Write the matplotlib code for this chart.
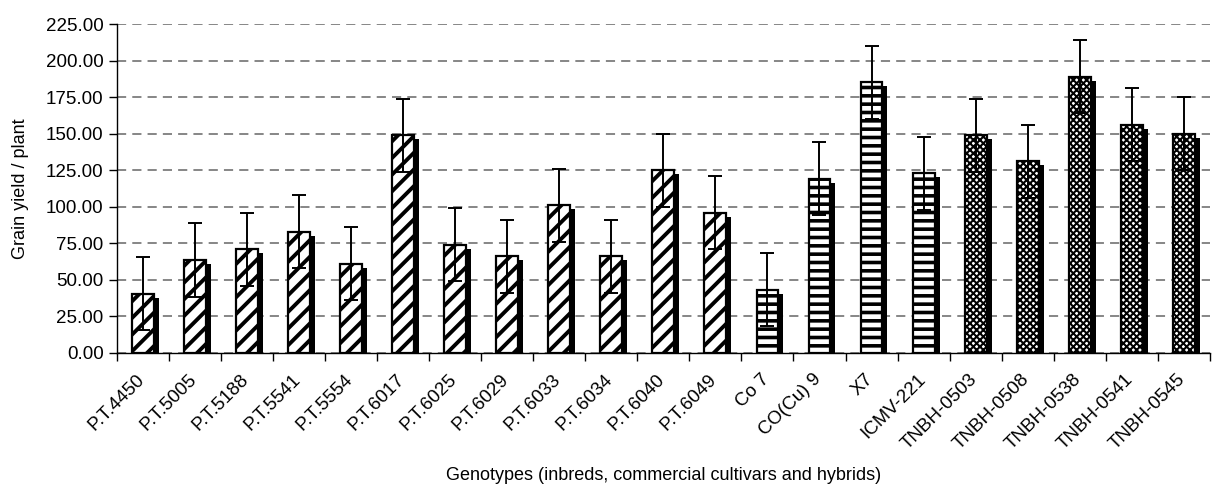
import numpy as np
import matplotlib.pyplot as plt
from matplotlib.transforms import offset_copy, ScaledTranslation

plt.rcParams['font.family'] = ['Liberation Sans', 'DejaVu Sans']

genotypes = ['P.T.4450', 'P.T.5005', 'P.T.5188', 'P.T.5541', 'P.T.5554', 'P.T.6017',
             'P.T.6025', 'P.T.6029', 'P.T.6033', 'P.T.6034', 'P.T.6040', 'P.T.6049',
             'Co 7', 'CO(Cu) 9', 'X7', 'ICMV-221',
             'TNBH-0503', 'TNBH-0508', 'TNBH-0538', 'TNBH-0541', 'TNBH-0545']
yields = [40.5, 63.5, 71, 83, 61, 149, 74, 66, 101, 66, 125, 96,
          43, 119, 185, 123, 149, 131, 189, 156, 150]
errors = [25, 25, 25, 25, 25, 25, 25, 25, 25, 25, 25, 25,
          25, 25, 25, 25, 25, 25, 25, 25, 25]
groups = ['inbred'] * 12 + ['cultivar'] * 4 + ['hybrid'] * 5

hatches = {'inbred': '//', 'cultivar': '--', 'hybrid': 'xxxxx'}
hatch_lw = {'inbred': 2.8, 'cultivar': 2.6, 'hybrid': 1.5}

fig = plt.figure(figsize=(12.16, 4.9), dpi=100)
ax = fig.add_axes([0.096, 0.28, 0.899, 0.671])

x = np.arange(len(genotypes))
w = 0.42

# shadow bars (offset to the lower right)
shadow_tr = offset_copy(ax.transData, fig=fig, x=5, y=-4, units='dots')
ax.bar(x, yields, width=w, color='black', transform=shadow_tr, zorder=2)

for xi, yi, g in zip(x, yields, groups):
    b = ax.bar(xi, yi, width=w, color='white', edgecolor='black',
               hatch=hatches[g], linewidth=0, zorder=3)
    for p in b:
        if hasattr(p, 'set_hatch_linewidth'):
            p.set_hatch_linewidth(hatch_lw[g])
    ax.bar(xi, yi, width=w, fill=False, edgecolor='black', linewidth=1.6, zorder=4)

ax.errorbar(x, yields, yerr=errors, fmt='none', ecolor='black', elinewidth=1.4,
            capsize=5, capthick=1.4, zorder=5)

ax.set_ylim(0, 225)
ax.set_xlim(-0.5, len(genotypes) - 0.5)
ax.set_yticks(np.arange(0, 226, 25))
ax.set_yticklabels(['%.2f' % v for v in np.arange(0, 226, 25)], fontsize=13.5)
ax.yaxis.grid(True, linestyle=(0, (6, 4)), color='#666666', linewidth=1.1)
ax.set_axisbelow(True)

ax.set_xticks(x)
ax.set_xticklabels(genotypes, rotation=45, ha='right', rotation_mode='anchor', fontsize=13.5)
ax.tick_params(axis='x', length=0, pad=13)
shift = ScaledTranslation(-7 / 100, 0, fig.dpi_scale_trans)
for lab in ax.get_xticklabels():
    lab.set_transform(lab.get_transform() + shift)
ax.set_xticks(np.arange(-0.5, len(genotypes), 1), minor=True)
ax.tick_params(axis='x', which='minor', length=6, direction='out', width=1)
ax.tick_params(axis='y', length=6, direction='out', width=1)

for s in ['top', 'right']:
    ax.spines[s].set_visible(False)
ax.spines['left'].set_linewidth(1)
ax.spines['bottom'].set_linewidth(1)

ax.set_ylabel('Grain yield / plant', fontsize=13, labelpad=12)
ax.set_xlabel('Genotypes (inbreds, commercial cultivars and hybrids)', fontsize=13, labelpad=10)

fig.savefig('out.png', dpi=100)
